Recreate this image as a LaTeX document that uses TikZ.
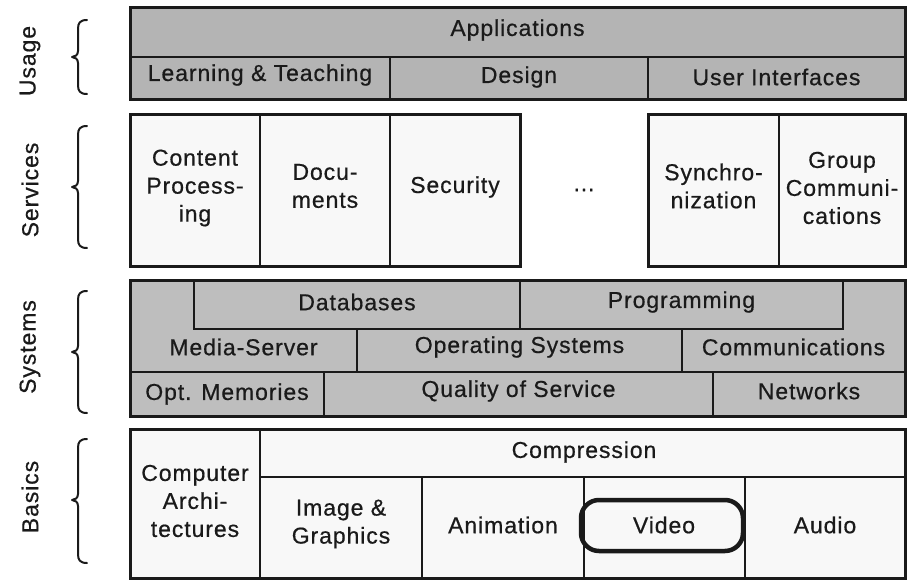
\documentclass[tikz,border=0pt]{standalone}
\usepackage{fontspec}
\setmainfont{Liberation Sans}[LetterSpace=4,FakeBold=0.6]
\definecolor{usagegray}{HTML}{B4B4B4}
\definecolor{sysgray}{HTML}{BEBEBE}
\definecolor{paper}{HTML}{F8F8F8}
\definecolor{ink}{HTML}{1A1A1A}
\begin{document}
\begin{tikzpicture}[x=1pt,y=-1pt,
  outer/.style={draw=ink,line width=3pt},
  inner/.style={draw=ink,line width=2pt},
  lbl/.style={font=\fontsize{23}{28}\selectfont,align=center,inner sep=0pt,text=ink},
  side/.style={font=\fontsize{23}{28}\selectfont,rotate=90,inner sep=0pt,text=ink},
  brace/.style={draw=ink,line width=2pt,line cap=round,line join=round}]
\useasboundingbox (0,0) rectangle (907,580);

% ---------- side labels and braces ----------
\node[side] (lusage) at (30,61) {Usage};
\node[side] (lserv) at (30,190) {Services};
\node[side] (lsys) at (30,347) {Systems};
\node[side] (lbas) at (30,497) {Basics};
\newcommand{\mybrace}[3]{%
  \draw[brace] (87,#1) .. controls (80,#1) and (78,#1+3) .. (78,#1+9)
    -- (78,#3-6) .. controls (78,#3-2) and (75,#3) .. (72,#3)
    .. controls (75,#3) and (78,#3+2) .. (78,#3+6)
    -- (78,#2-9) .. controls (78,#2-3) and (80,#2) .. (87,#2);}
\mybrace{20}{94}{57}
\mybrace{126}{248}{187}
\mybrace{291}{413}{352}
\mybrace{439}{563}{500}

% ---------- Usage ----------
\fill[usagegray] (130,8) rectangle (905,100);
\draw[inner] (130,57) -- (905,57);
\draw[inner] (390,57) -- (390,100);
\draw[inner] (648,57) -- (648,100);
\draw[outer] (130,8) rectangle (905,100);
\node[lbl] (app) at (517.5,30) {Applications};
\node[lbl] (learn) at (260,75) {Learning \& Teaching};
\node[lbl] (design) at (519,77) {Design};
\node[lbl] (ui) at (776.5,77) {User Interfaces};

% ---------- Services ----------
\fill[paper] (130,115) rectangle (520,266);
\fill[paper] (648,115) rectangle (905,266);
\draw[inner] (260,115) -- (260,266);
\draw[inner] (390,115) -- (390,266);
\draw[inner] (779,115) -- (779,266);
\draw[outer] (130,115) rectangle (520,266);
\draw[outer] (648,115) rectangle (905,266);
\node[lbl] (content) at (195,188) {Content\\Process-\\ing};
\node[lbl] (docs) at (325,186) {Docu-\\ments};
\node[lbl] (sec) at (455,187) {Security};
\node[lbl] (dots) at (584,190) {...};
\node[lbl] (sync) at (713.5,186) {Synchro-\\nization};
\node[lbl] (group) at (842,188) {Group\\Communi-\\cations};

% ---------- Systems ----------
\fill[sysgray] (130,280) rectangle (905,416);
\draw[inner] (194,280) -- (194,329) -- (843,329) -- (843,280);
\draw[inner] (520,280) -- (520,329);
\draw[inner] (130,372) -- (905,372);
\draw[inner] (357,329) -- (357,372);
\draw[inner] (682,329) -- (682,372);
\draw[inner] (324,372) -- (324,416);
\draw[inner] (713,372) -- (713,416);
\draw[outer] (130,280) rectangle (905,416);
\node[lbl] (db) at (357,302) {Databases};
\node[lbl] (prog) at (681.5,302) {Programming};
\node[lbl] (media) at (243.5,347) {Media-Server};
\node[lbl] (os) at (519.5,347) {Operating Systems};
\node[lbl] (comm) at (793.5,347) {Communications};
\node[lbl] (opt) at (227,394) {Opt. Memories};
\node[lbl] (qos) at (518.5,391) {Quality of Service};
\node[lbl] (net) at (809,391) {Networks};

% ---------- Basics ----------
\fill[paper] (130,429) rectangle (905,578);
\draw[inner] (260,429) -- (260,578);
\draw[inner] (260,477) -- (905,477);
\draw[inner] (422,477) -- (422,578);
\draw[inner] (584,477) -- (584,578);
\draw[inner] (745,477) -- (745,578);
\draw[outer] (130,429) rectangle (905,578);
\node[lbl] (arch) at (195,501) {Computer\\Archi-\\tectures};
\node[lbl] (comp) at (584,452) {Compression};
\node[lbl] (img) at (341,524) {Image \&\\Graphics};
\node[lbl] (anim) at (503,525) {Animation};
\node[lbl] (video) at (664,525) {Video};
\node[lbl] (audio) at (825,525) {Audio};
\draw[draw=ink,line width=4.5pt,rounded corners=18pt] (581,500) rectangle (743,551);
\end{tikzpicture}
\end{document}
